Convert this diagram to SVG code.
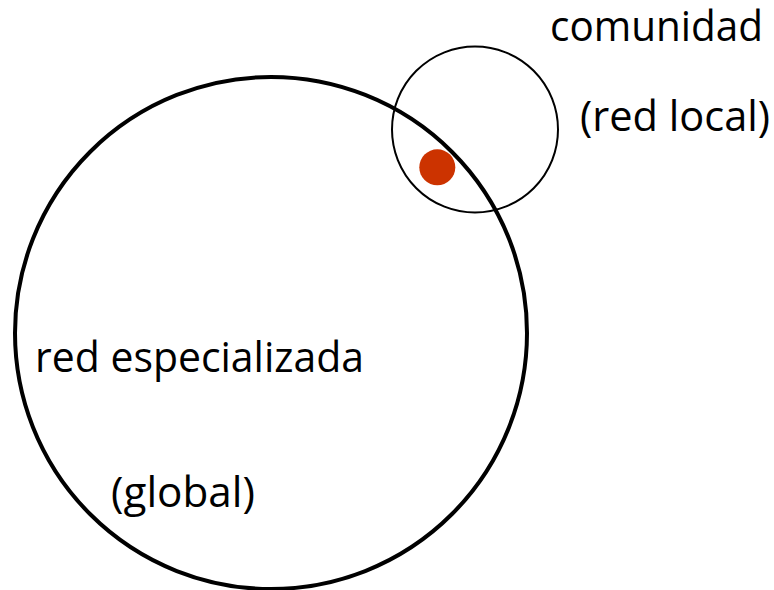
<svg xmlns="http://www.w3.org/2000/svg" width="774" height="590" viewBox="0 0 774 590">
<style>
.t{font-family:"Open Sans","Liberation Sans",sans-serif;font-size:42px;fill:#000}
.c{fill:none;stroke:#000}
</style>
<rect width="774" height="590" fill="#fff"/>
<g id="global">
<circle class="c" cx="271" cy="333" r="256" stroke-width="4"/>
<text class="t" x="35" y="372" textLength="329" lengthAdjust="spacingAndGlyphs">red especializada</text>
<text class="t" x="111" y="507" textLength="144" lengthAdjust="spacingAndGlyphs">(global)</text>
</g>
<g id="local">
<circle class="c" cx="475" cy="129.5" r="83" stroke-width="2"/>
<text class="t" x="550" y="41" textLength="213" lengthAdjust="spacingAndGlyphs">comunidad</text>
<text class="t" x="580" y="131" textLength="190" lengthAdjust="spacingAndGlyphs">(red local)</text>
</g>
<g id="node">
<circle cx="437.3" cy="167.3" r="18" fill="#CC3300"/>
</g>
<g id="connectors"/>
</svg>
